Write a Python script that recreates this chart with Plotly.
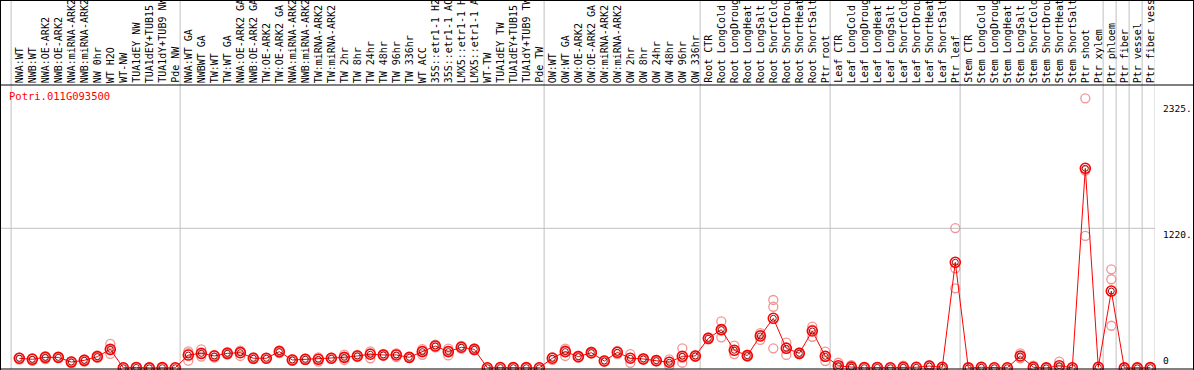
import plotly.graph_objects as go

gene_id = "Potri.011G093500"

samples = [
    "NWA:WT", "NWB:WT", "NWA:OE-ARK2", "NWB:OE-ARK2", "NWA:miRNA-ARK2", "NWB:miRNA-ARK2",
    "NW 0hr", "WT H2O", "WT-NW", "TUA1dEY NW", "TUA1dEY+TUB15 NW", "TUA1dY+TUB9 NW", "Pde NW",
    "NWA:WT GA", "NWBWT GA", "TW:WT", "TW:WT GA", "NWA:OE-ARK2 GA", "NWB:OE-ARK2 GA",
    "TW:OE-ARK2", "TW:OE-ARK2 GA", "NWA:miRNA-ARK2", "NWB:miRNA-ARK2", "TW:miRNA-ARK2",
    "TW:miRNA-ARK2", "TW 2hr", "TW 8hr", "TW 24hr", "TW 48hr", "TW 96hr", "TW 336hr", "WT ACC",
    "35S::etr1-1 H2O", "35S::etr1-1 ACC", "LMX5::etr1-1 H2O", "LMX5::etr1-1 ACC", "WT-TW",
    "TUA1dEY TW", "TUA1dEY+TUB15 TW", "TUA1dY+TUB9 TW", "Pde TW",
    "OW:WT", "OW:WT GA", "OW:OE-ARK2", "OW:OE-ARK2 GA", "OW:miRNA-ARK2", "OW:miRNA-ARK2",
    "OW 2hr", "OW 8hr", "OW 24hr", "OW 48hr", "OW 96hr", "OW 336hr",
    "Root CTR", "Root LongCold", "Root LongDrought", "Root LongHeat", "Root LongSalt",
    "Root ShortCold", "Root ShortDrought", "Root ShortHeat", "Root ShortSalt", "Ptr root",
    "Leaf CTR", "Leaf LongCold", "Leaf LongDrought", "Leaf LongHeat", "Leaf LongSalt",
    "Leaf ShortCold", "Leaf ShortDrought", "Leaf ShortHeat", "Leaf ShortSalt", "Ptr leaf",
    "Stem CTR", "Stem LongCold", "Stem LongDrought", "Stem LongHeat", "Stem LongSalt",
    "Stem ShortCold", "Stem ShortDrought", "Stem ShortHeat", "Stem ShortSalt", "Ptr shoot",
    "Ptr xylem", "Ptr phloem", "Ptr fiber", "Ptr vessel", "Ptr fiber vessel",
]

# index of first sample of each group (separator lines drawn before them)
group_starts = [0, 13, 41, 53, 63, 73, 84, 85, 86, 87, 88]

mean_values = [
    85, 76, 93, 93, 52, 67, 99, 163, 2, 5, 1, 3, 2,
    113, 128, 105, 128, 134, 85, 85, 143, 70, 76, 76, 85, 93, 105, 120, 114, 114, 93, 143,
    192, 143, 181, 163, 2, 4, 3, 3, 2,
    85, 143, 99, 134, 61, 137, 85, 79, 64, 50, 102, 105,
    259, 335, 155, 108, 280, 434, 172, 128, 323, 102,
    20, 8, 3, 5, 2, 6, 6, 17, 6, 923,
    1, 6, 2, 2, 105, 6, 1, 20, 2, 1744,
    6, 672, 1, 1, 3,
]

rep1 = [
    74, 62, 78, 88, 44, 55, 88, 123, 0, 2, 0, 1, 1,
    64, 100, 90, 118, 105, 78, 80, 130, 62, 70, 55, 80, 70, 95, 85, 105, 95, 88, 115,
    180, 110, 170, 155, 0, 2, 1, 1, 0,
    70, 105, 90, 125, 55, 122, 45, 72, 58, 20, 46, 97,
    250, 268, 122, 100, 245, 172, 114, 120, 273, 61,
    0, 0, 1, 2, 0, 0, 3, 10, 2, 696,
    0, 2, 0, 0, 85, 0, 0, 0, 0, 1153,
    3, 369, 0, 0, 1,
]
rep2 = [
    90, 80, 98, 94, 54, 70, 100, 156, 2, 5, 1, 3, 2,
    130, 121, 110, 128, 145, 85, 86, 145, 70, 76, 80, 85, 93, 105, 130, 114, 120, 93, 150,
    192, 150, 181, 163, 2, 4, 3, 3, 2,
    90, 155, 99, 134, 61, 140, 88, 79, 64, 55, 88, 105,
    259, 329, 148, 108, 290, 535, 181, 128, 335, 102,
    14, 0, 3, 5, 2, 0, 6, 17, 6, 871,
    1, 6, 2, 2, 102, 0, 1, 5, 2, 1724,
    6, 775, 1, 1, 3,
]
rep3 = [
    91, 86, 103, 97, 58, 76, 109, 210, 4, 8, 2, 5, 3,
    145, 163, 115, 138, 152, 92, 89, 154, 78, 82, 93, 90, 116, 115, 145, 123, 127, 98, 164,
    204, 169, 192, 171, 4, 6, 5, 5, 4,
    95, 169, 108, 143, 67, 149, 122, 86, 70, 75, 172, 113,
    268, 408, 195, 116, 305, 594, 221, 136, 361, 143,
    46, 24, 5, 8, 4, 20, 9, 24, 10, 1222,
    2, 10, 4, 4, 128, 20, 2, 55, 4, 2355,
    9, 862, 2, 2, 5,
]

y_tick_values = [2325, 1220, 0]
y_tick_labels = ["2325.", "1220.", "0"]

# ---------------------------------------------------------------- layout geometry
W, H = 1194, 370
ML, MR, MT, MB = 1, 39, 85, 1
PW, PH = W - ML - MR, H - MT - MB


def px_x(p):
    return (p - ML) / PW


def px_y(p):
    return (H - MB - p) / PH


x = list(range(len(samples)))
fig = go.Figure()

for reps in (rep1, rep2, rep3):
    fig.add_trace(go.Scatter(
        x=x, y=reps, mode="markers",
        marker=dict(symbol="circle-open", size=9, color="#f29494", line=dict(width=1.3, color="#f29494")),
        hoverinfo="skip", showlegend=False, cliponaxis=False,
    ))

fig.add_trace(go.Scatter(
    x=x, y=mean_values, mode="lines+markers",
    line=dict(color="#ff0000", width=1),
    marker=dict(symbol="circle-open", size=10, color="#ff0000", line=dict(width=1.6, color="#ff0000")),
    showlegend=False, cliponaxis=False,
))
fig.add_trace(go.Scatter(
    x=x, y=mean_values, mode="markers",
    marker=dict(symbol="circle-open", size=6, color="#700000", line=dict(width=0.9, color="#700000")),
    hoverinfo="skip", showlegend=False, cliponaxis=False,
))

shapes = []
# group separators
for g in group_starts:
    shapes.append(dict(type="line", xref="x", yref="paper", x0=g - 0.63, x1=g - 0.63,
                       y0=px_y(369), y1=px_y(0), line=dict(color="#c0c0c0", width=1), layer="below"))
# mid gridline
shapes.append(dict(type="line", xref="paper", yref="y", x0=px_x(0), x1=1, y0=1220, y1=1220,
                   line=dict(color="#c0c0c0", width=1), layer="below"))
# black frame lines
blk = dict(color="black", width=1)
shapes += [
    dict(type="line", xref="paper", yref="paper", x0=px_x(0), x1=px_x(W), y0=px_y(85), y1=px_y(85), line=blk),
    dict(type="line", xref="paper", yref="paper", x0=px_x(0), x1=px_x(W), y0=px_y(0.5), y1=px_y(0.5), line=blk),
    dict(type="line", xref="paper", yref="paper", x0=px_x(0), x1=px_x(W), y0=px_y(369), y1=px_y(369), line=blk),
    dict(type="line", xref="paper", yref="paper", x0=px_x(0.5), x1=px_x(0.5), y0=px_y(0), y1=px_y(H), line=blk),
    dict(type="line", xref="paper", yref="paper", x0=px_x(1193.5), x1=px_x(1193.5), y0=px_y(0), y1=px_y(H), line=blk),
]

annotations = []
FONT = "DejaVu Sans Mono"
for i, name in enumerate(samples):
    annotations.append(dict(
        x=i, xref="x", y=1, yref="paper", text=name[:14], textangle=-90,
        xanchor="center", yanchor="bottom", showarrow=False, borderpad=0, yshift=1,
        font=dict(family=FONT, size=10, color="black"),
    ))

annotations.append(dict(
    x=px_x(8), xref="paper", y=1, yref="paper", text=gene_id, xanchor="left", yanchor="top",
    showarrow=False, borderpad=0, yshift=-4, font=dict(family=FONT, size=10.5, color="#ff0000"),
))

for v, lab in zip(y_tick_values, y_tick_labels):
    annotations.append(dict(
        x=1, xref="paper", y=v, yref="y", text=lab, xanchor="left",
        yanchor="bottom" if v == 0 else "top", showarrow=False, borderpad=0, xshift=7,
        yshift=1 if v == 0 else 0,
        font=dict(family=FONT, size=9.5, color="black"),
    ))

k = (368 - 228.3) / 1220.0
ymin = (368 - (H - MB)) / k
ymax = (368 - MT) / k

fig.update_layout(
    width=W, height=H, margin=dict(l=ML, r=MR, t=MT, b=MB, pad=0),
    paper_bgcolor="white", plot_bgcolor="white",
    xaxis=dict(range=[-1.408, -1.408 + PW / 13.0], showgrid=False, zeroline=False,
               showticklabels=False, showline=False, ticks=""),
    yaxis=dict(range=[ymin, ymax], showgrid=False, zeroline=False,
               showticklabels=False, showline=False, ticks=""),
    shapes=shapes, annotations=annotations, showlegend=False,
)

fig.write_html(
    "out.html",
    config={"displayModeBar": False},
    post_script="document.body.style.margin='0';document.body.style.overflow='hidden';",
)
